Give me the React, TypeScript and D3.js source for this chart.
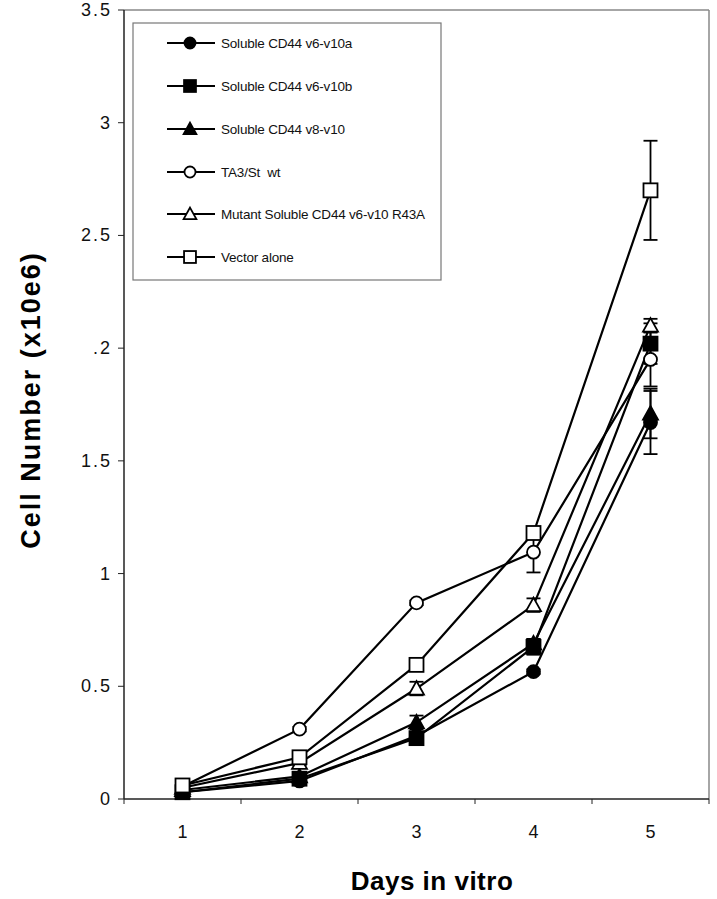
import React from "react";
import * as d3 from "d3";

const days = ["1", "2", "3", "4", "5"];
const yTickValues = [0, 0.5, 1, 1.5, 2, 2.5, 3, 3.5];
const yTickLabels = ["0", "0.5", "1", "1.5", ".2", "2.5", "3", "3.5"];

const seriesNames = [
  "Soluble CD44 v6-v10a",
  "Soluble CD44 v6-v10b",
  "Soluble CD44 v8-v10",
  "TA3/St  wt",
  "Mutant Soluble CD44 v6-v10 R43A",
  "Vector alone",
];
const seriesShapes = ["circle", "square", "triangle", "circle", "triangle", "square"];
const seriesFilled = [true, true, true, false, false, false];

const solubleA = [0.03, 0.08, 0.28, 0.565, 1.67];
const solubleB = [0.03, 0.09, 0.27, 0.675, 2.02];
const v8v10 = [0.04, 0.1, 0.34, 0.69, 1.71];
const ta3 = [0.055, 0.31, 0.87, 1.095, 1.95];
const mutant = [0.05, 0.16, 0.49, 0.86, 2.1];
const vector = [0.06, 0.185, 0.595, 1.18, 2.7];

const errA = [0.01, 0.01, 0.01, 0.01, 0.14];
const errB = [0.01, 0.01, 0.01, 0.035, 0.09];
const errV8 = [0.01, 0.01, 0.03, 0.02, 0.11];
const errTA3 = [0.01, 0.01, 0.01, 0.09, 0.12];
const errMut = [0.01, 0.01, 0.03, 0.03, 0.03];
const errVec = [0.01, 0.01, 0.01, 0.01, 0.22];

const values = [solubleA, solubleB, v8v10, ta3, mutant, vector];
const errors = [errA, errB, errV8, errTA3, errMut, errVec];

const W = 717;
const H = 899;
const left = 124;
const right = 709;
const top = 10;
const bottom = 799;

function Marker({ shape, filled, x, y, size = 1 }: { shape: string; filled: boolean; x: number; y: number; size?: number }) {
  const fill = filled ? "#000" : "#fff";
  const sw = 1.8;
  if (shape === "circle") {
    return <circle cx={x} cy={y} r={6.5 * size} fill={fill} stroke="#000" strokeWidth={sw} />;
  }
  if (shape === "square") {
    const h = 7 * size;
    return <rect x={x - h} y={y - h} width={2 * h} height={2 * h} fill={fill} stroke="#000" strokeWidth={sw} />;
  }
  const s = 7.5 * size;
  const p = `M${x},${y - s} L${x + s},${y + s * 0.8} L${x - s},${y + s * 0.8} Z`;
  return <path d={p} fill={fill} stroke="#000" strokeWidth={sw} strokeLinejoin="miter" />;
}

export default function App() {
  const x = d3.scaleBand<string>().domain(days).range([left, right]);
  const y = d3.scaleLinear().domain([0, 3.5]).range([bottom, top]);
  const cx = (d: string) => (x(d) as number) + x.bandwidth() / 2;
  const line = d3
    .line<number>()
    .x((_, i) => cx(days[i]))
    .y((v) => y(v));

  const boundaries = [...days.map((d) => x(d) as number), right];
  const font = "Arial, 'Liberation Sans', Helvetica, sans-serif";
  const legendYs = [43, 86, 129, 172, 214, 257];

  return (
    <svg width={W} height={H} style={{ position: "absolute", left: 0, top: 0 }} fontFamily={font}>
      <rect x={0} y={0} width={W} height={H} fill="#fff" />
      {/* frame top/right */}
      <line x1={left} y1={top} x2={right} y2={top} stroke="#888" strokeWidth={1.5} />
      <line x1={right} y1={top} x2={right} y2={bottom} stroke="#888" strokeWidth={1.5} />
      {/* axes */}
      <line x1={left} y1={top} x2={left} y2={bottom} stroke="#222" strokeWidth={1.5} />
      <line x1={left} y1={bottom} x2={right} y2={bottom} stroke="#222" strokeWidth={1.5} />
      {yTickValues.map((v, i) => (
        <g key={"yt" + i}>
          <line x1={left - 6} x2={left} y1={y(v)} y2={y(v)} stroke="#222" strokeWidth={1} />
          <text x={112} y={y(v) + 6} textAnchor="end" fontSize={18} letterSpacing={2} fill="#111">
            {yTickLabels[i]}
          </text>
        </g>
      ))}
      {boundaries.map((b, i) => (
        <line key={"xt" + i} x1={b} x2={b} y1={bottom} y2={bottom + 5} stroke="#222" strokeWidth={1} />
      ))}
      {days.map((d) => (
        <text key={"xl" + d} x={cx(d)} y={838} textAnchor="middle" fontSize={18} fill="#111">
          {d}
        </text>
      ))}
      {/* axis titles */}
      <text x={432} y={890} textAnchor="middle" fontSize={26} fontWeight="bold" letterSpacing={0.5} fill="#000">
        Days in vitro
      </text>
      <text
        transform={`translate(40,400) rotate(-90)`}
        textAnchor="middle"
        fontSize={27}
        fontWeight="bold"
        letterSpacing={2}
        fill="#000"
      >
        Cell Number (x10e6)
      </text>

      {/* series */}
      {values.map((vals, si) => (
        <g key={"s" + si}>
          <path d={line(vals) as string} fill="none" stroke="#000" strokeWidth={2.2} />
          {vals.map((v, i) => {
            const e = errors[si][i];
            const px = cx(days[i]);
            return (
              <g key={"e" + i}>
                <line x1={px} x2={px} y1={y(v + e)} y2={y(v - e)} stroke="#000" strokeWidth={1.8} />
                <line x1={px - 7} x2={px + 7} y1={y(v + e)} y2={y(v + e)} stroke="#000" strokeWidth={1.8} />
                <line x1={px - 7} x2={px + 7} y1={y(v - e)} y2={y(v - e)} stroke="#000" strokeWidth={1.8} />
              </g>
            );
          })}
          {vals.map((v, i) => (
            <Marker
              key={"m" + i}
              shape={seriesShapes[si]}
              filled={seriesFilled[si]}
              x={cx(days[i])}
              y={y(v)}
            />
          ))}
        </g>
      ))}

      {/* legend */}
      <rect x={133} y={23} width={308} height={257} fill="#fff" stroke="#777" strokeWidth={1.2} />
      {seriesNames.map((n, i) => (
        <g key={"lg" + i}>
          <line x1={167} x2={215} y1={legendYs[i]} y2={legendYs[i]} stroke="#000" strokeWidth={1.8} />
          <Marker shape={seriesShapes[i]} filled={seriesFilled[i]} x={190} y={legendYs[i]} size={0.85} />
          <text x={221} y={legendYs[i] + 5} fontSize={13.5} letterSpacing={-0.2} fill="#111" style={{ whiteSpace: "pre" }}>
            {n}
          </text>
        </g>
      ))}
    </svg>
  );
}
